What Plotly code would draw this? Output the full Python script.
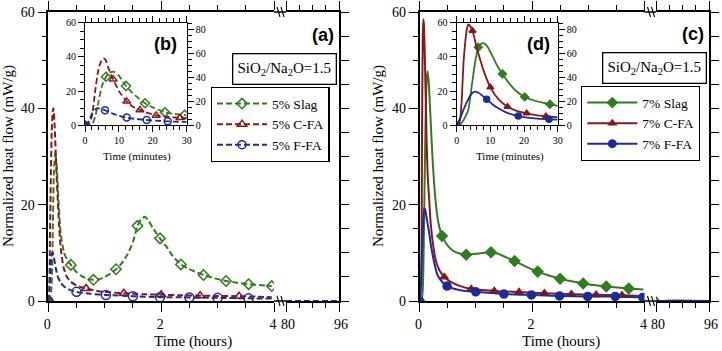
import plotly.graph_objects as go

W, H = 722, 351

GREEN = "#2f7d1c"
RED = "#8c1616"
BLUE = "#1d2b98"
SERIF = "Liberation Serif, Times New Roman, serif"
SANS = "Liberation Sans, Arial, sans-serif"

# ---------------- (a) 5 % additions, hours ----------------
slag5_h = [0, 0.05, 0.08, 0.1, 0.125, 0.15, 0.18, 0.22, 0.28, 0.34, 0.4, 0.5, 0.6, 0.7, 0.8,
           0.9, 1.0, 1.1, 1.2, 1.3, 1.4, 1.5, 1.58, 1.65, 1.71, 1.78, 1.85, 1.92, 1.98, 2.1,
           2.2, 2.35, 2.5, 2.75, 2.95, 3.15, 3.35, 3.55, 3.75, 3.96]
slag5_v = [0, 2, 15, 27, 31, 28, 21, 14, 10, 8.4, 7.5, 6.0, 5.1, 4.6, 4.4,
           4.5, 5.0, 5.7, 6.6, 7.8, 9.6, 12.2, 15.6, 17.0, 17.5, 16.6, 15.2, 14.0, 13.0, 11.2,
           9.4, 7.6, 6.6, 5.4, 4.7, 4.15, 3.8, 3.5, 3.3, 3.1]
slag5_mark_h = [0, 0.4, 0.8, 1.2, 1.58, 1.98, 2.35, 2.75, 3.15, 3.55, 3.96]
slag5_mark_v = [0, 7.5, 4.4, 6.6, 15.6, 13.0, 7.6, 5.4, 4.15, 3.5, 3.1]

cfa5_h = [0, 0.02, 0.04, 0.06, 0.08, 0.09, 0.11, 0.14, 0.18, 0.22, 0.27, 0.33, 0.4, 0.5,
          0.67, 0.85, 1.0, 1.34, 1.7, 2.0, 2.35, 2.69, 3.0, 3.38, 3.7, 3.96]
cfa5_v = [0, 6, 22, 35, 39.5, 40, 37, 28, 18, 11, 7, 5, 4.0, 3.2,
          2.6, 2.1, 1.9, 1.6, 1.4, 1.3, 1.2, 1.1, 1.05, 1.0, 0.9, 0.8]
cfa5_mark_h = [0, 0.67, 1.34, 2.0, 2.69, 3.38]
cfa5_mark_v = [0, 2.6, 1.6, 1.3, 1.1, 1.0]

ffa5_h = [0, 0.02, 0.04, 0.06, 0.08, 0.1, 0.13, 0.17, 0.22, 0.28, 0.35, 0.5, 0.75, 1.02,
          1.5, 1.98, 2.5, 3.0, 3.55, 3.96]
ffa5_v = [0, 2, 7, 9.8, 10, 9, 7, 5, 3.8, 3.0, 2.5, 1.9, 1.5, 1.25,
          1.0, 0.8, 0.75, 0.65, 0.55, 0.5]
ffa5_mark_h = [0, 0.5, 1.02, 1.5, 1.98, 2.5, 3.0, 3.55]
ffa5_mark_v = [0, 1.9, 1.25, 1.0, 0.8, 0.75, 0.65, 0.55]

late_h = [80, 96]
late_v = [0, 0]

# ---------------- (b) 5 % additions, minutes ----------------
slag5_min = [0, 2, 3, 4, 5, 6.2, 7, 8.4, 10, 12.1, 14, 16, 17.7, 20, 23.6, 26, 28, 30]
slag5_min_v = [0, 0.3, 5, 14, 23, 28.4, 30.5, 31.4, 29, 23, 19, 15.5, 12.9, 10.5, 7.6, 6.8, 6.3, 6.0]
slag5_min_mark = [0, 6.2, 12.1, 17.7, 23.6, 29.4]
slag5_min_mark_v = [0, 28.4, 23, 12.9, 7.6, 6.1]

cfa5_min = [0, 1, 2, 3, 4, 5, 5.5, 6, 7, 8.3, 10, 12.3, 14, 16.2, 18, 21, 24, 28, 30]
cfa5_min_v = [0, 0.5, 5, 20, 33, 38.5, 39, 38.5, 33, 27, 20, 14, 11, 9, 7.5, 5.8, 5.0, 4.4, 4.2]
cfa5_min_mark = [0, 8.3, 12.3, 16.2, 21, 28]
cfa5_min_mark_v = [0, 27, 14, 9, 5.8, 4.4]

ffa5_min = [0, 1, 2, 3, 3.7, 4.5, 5.9, 8, 10, 12.3, 15, 18.2, 21, 24.4, 27, 30]
ffa5_min_v = [0, 2, 6.5, 9.3, 10, 9.7, 8.8, 7.0, 5.6, 4.5, 3.7, 3.1, 2.7, 2.3, 2.1, 2.0]
ffa5_min_mark = [0, 5.9, 12.3, 18.2, 24.4]
ffa5_min_mark_v = [0, 8.8, 4.5, 3.1, 2.3]

# ---------------- (c) 7 % additions, hours ----------------
slag7_h = [0, 0.04, 0.06, 0.08, 0.1, 0.12, 0.14, 0.16, 0.18, 0.2, 0.235, 0.28, 0.33, 0.4,
           0.5, 0.6, 0.7, 0.83, 1.0, 1.15, 1.27, 1.4, 1.55, 1.69, 1.9, 2.1, 2.3, 2.5, 2.7,
           2.91, 3.1, 3.32, 3.52, 3.72, 3.98]
slag7_v = [0, 0.5, 3, 15, 32, 44, 47.7, 46, 42, 37, 29, 21.5, 16.6, 13.5,
           11.5, 10.4, 9.9, 9.6, 9.8, 10.0, 10.1, 9.8, 9.0, 8.3, 7.1, 6.1, 5.3, 4.6, 4.1,
           3.65, 3.3, 3.0, 2.8, 2.6, 2.4]
slag7_mark_h = [0, 0.4, 0.83, 1.27, 1.69, 2.1, 2.5, 2.91, 3.32, 3.72]
slag7_mark_v = [0, 13.5, 9.6, 10.1, 8.3, 6.1, 4.6, 3.65, 3.0, 2.6]

cfa7_h = [0, 0.03, 0.045, 0.058, 0.07, 0.08, 0.1, 0.125, 0.146, 0.167, 0.2, 0.25, 0.3, 0.35,
          0.44, 0.55, 0.7, 0.92, 1.33, 1.77, 2.22, 2.7, 3.14, 3.6, 3.98]
cfa7_v = [0, 5, 35, 55, 58.5, 57, 48, 34, 26, 22, 16, 11, 8, 6.5,
          5.0, 4.0, 3.2, 2.5, 2.1, 1.85, 1.6, 1.4, 1.3, 1.2, 1.0]
cfa7_mark_h = [0, 0.44, 0.92, 1.33, 1.77, 2.22, 2.7, 3.14, 3.6]
cfa7_mark_v = [0, 5.0, 2.5, 2.1, 1.85, 1.6, 1.4, 1.3, 1.2]

ffa7_h = [0, 0.02, 0.04, 0.06, 0.085, 0.1, 0.13, 0.17, 0.2, 0.235, 0.28, 0.32, 0.4, 0.49,
          0.6, 0.75, 1.0, 1.5, 1.99, 2.49, 2.99, 3.48, 3.97]
ffa7_v = [0, 2, 8, 15, 19.2, 19, 17, 14.3, 11.8, 9.5, 7, 5.4, 4, 3.1,
          2.6, 2.2, 1.9, 1.45, 1.25, 1.05, 0.95, 0.95, 0.75]
ffa7_mark_h = [0, 0.49, 1.0, 1.5, 1.99, 2.49, 2.99, 3.48, 3.97]
ffa7_mark_v = [0, 3.1, 1.9, 1.45, 1.25, 1.05, 0.95, 0.95, 0.75]

slag7_late_h = [80, 81, 96]
slag7_late_v = [0.9, 0, 0]
cfa7_late_h = [80, 80.9, 82, 96]
cfa7_late_v = [0.2, -0.5, 0, 0]

# ---------------- (d) 7 % additions, minutes ----------------
slag7_min = [0, 1, 2, 2.8, 3.45, 4.45, 5.4, 6.4, 7.2, 7.9, 9, 10.5, 12, 13.6, 16, 18, 20.2,
             23, 25.5, 27.7, 30]
slag7_min_v = [0, 0.5, 3, 6, 9, 22.6, 36, 45.6, 47.5, 48, 46.5, 41, 35, 30, 23.5, 19.5, 16.6,
               14.5, 13.2, 12.3, 11.3]
slag7_min_mark = [0, 6.4, 13.6, 20.2, 27.7]
slag7_min_mark_v = [0, 45.6, 30, 16.6, 12.3]

cfa7_min = [0, 0.5, 1, 1.5, 2, 2.5, 3, 3.45, 4, 4.7, 6, 8, 10, 12.5, 15.1, 18, 20.8, 23.5,
            26.5, 30]
cfa7_min_v = [0, 0.3, 3, 15, 36, 48, 56, 59, 58, 55.3, 45, 32, 22.2, 15, 10.9, 8.3, 7.0, 6.0,
              5.3, 4.6]
cfa7_min_mark = [0, 4.7, 10.0, 15.1, 20.8, 26.5]
cfa7_min_mark_v = [0, 55.3, 22.2, 10.9, 7.0, 5.3]

ffa7_min = [0, 1, 2, 3, 3.9, 4.7, 5.4, 6.5, 7.5, 8.9, 10.5, 12.5, 15, 18.3, 21, 24, 27.4, 30]
ffa7_min_v = [0, 4, 9, 13.5, 17, 19, 19.7, 19, 17.5, 15.3, 12.5, 9.8, 7.3, 5.4, 4.5, 3.9, 3.5, 3.3]
ffa7_min_mark = [0, 8.9, 18.3, 27.4]
ffa7_min_mark_v = [0, 15.3, 5.4, 3.5]


def fx(px):
    return px / W


def fy(py):
    return 1 - py / H


fig = go.Figure()


def add_series(x, y, mx, my, color, symbol, dash, xa, ya, msize, lw):
    fig.add_trace(go.Scatter(
        x=x, y=y, mode="lines", xaxis=xa, yaxis=ya,
        line=dict(color=color, width=lw, dash=dash, shape="spline", smoothing=0.6),
        showlegend=False, hoverinfo="skip"
    ))
    if mx:
        fig.add_trace(go.Scatter(
            x=mx, y=my, mode="markers", xaxis=xa, yaxis=ya,
            marker=dict(symbol=symbol, size=msize, color=color,
                        line=dict(color=color, width=1.5)),
            showlegend=False, hoverinfo="skip"
        ))


DASH = "6px,3px"

# panel (a) main
add_series(slag5_h, slag5_v, slag5_mark_h, slag5_mark_v, GREEN, "diamond-open", DASH, "x", "y", 8, 2)
add_series(cfa5_h, cfa5_v, cfa5_mark_h, cfa5_mark_v, RED, "triangle-up-open", DASH, "x", "y", 8, 2)
add_series(ffa5_h, ffa5_v, ffa5_mark_h, ffa5_mark_v, BLUE, "circle-open", DASH, "x", "y", 9, 2)
for c in (GREEN, RED, BLUE):
    add_series(late_h, late_v, None, None, c, None, DASH, "x2", "y", 0, 2)

# panel (b) inset
add_series(slag5_min, slag5_min_v, slag5_min_mark, slag5_min_mark_v, GREEN, "diamond-open", DASH, "x5", "y5", 7, 1.8)
add_series(cfa5_min, cfa5_min_v, cfa5_min_mark, cfa5_min_mark_v, RED, "triangle-up-open", DASH, "x5", "y5", 7, 1.8)
add_series(ffa5_min, ffa5_min_v, ffa5_min_mark, ffa5_min_mark_v, BLUE, "circle-open", DASH, "x5", "y5", 7, 1.8)

# panel (c) main
add_series(slag7_h, slag7_v, slag7_mark_h, slag7_mark_v, GREEN, "diamond", "solid", "x3", "y3", 8, 2)
add_series(cfa7_h, cfa7_v, cfa7_mark_h, cfa7_mark_v, RED, "triangle-up", "solid", "x3", "y3", 7, 2)
add_series(ffa7_h, ffa7_v, ffa7_mark_h, ffa7_mark_v, BLUE, "circle", "solid", "x3", "y3", 8, 2)
add_series(slag7_late_h, slag7_late_v, None, None, GREEN, None, "solid", "x4", "y3", 0, 2)
add_series(cfa7_late_h, cfa7_late_v, None, None, RED, None, "solid", "x4", "y3", 0, 2)
add_series(late_h, late_v, None, None, BLUE, None, "solid", "x4", "y3", 0, 2)

# panel (d) inset
add_series(slag7_min, slag7_min_v, slag7_min_mark, slag7_min_mark_v, GREEN, "diamond", "solid", "x6", "y7", 6, 1.8)
add_series(cfa7_min, cfa7_min_v, cfa7_min_mark, cfa7_min_mark_v, RED, "triangle-up", "solid", "x6", "y7", 6, 1.8)
add_series(ffa7_min, ffa7_min_v, ffa7_min_mark, ffa7_min_mark_v, BLUE, "circle", "solid", "x6", "y7", 6, 1.8)

# empty traces so the secondary (right-hand) axes get drawn
for xa, ya in [("x2", "y2"), ("x4", "y4"), ("x5", "y6"), ("x6", "y8")]:
    fig.add_trace(go.Scatter(x=[], y=[], xaxis=xa, yaxis=ya, showlegend=False, hoverinfo="skip"))

# legend entries
for name, color, sym in [("5% Slag", GREEN, "diamond-open"), ("5% C-FA", RED, "triangle-up-open"),
                         ("5% F-FA", BLUE, "circle-open")]:
    fig.add_trace(go.Scatter(x=[None], y=[None], mode="lines+markers", name=name, legend="legend",
                             line=dict(color=color, width=2, dash=DASH),
                             marker=dict(symbol=sym, size=8, color=color, line=dict(color=color, width=1.5)),
                             xaxis="x", yaxis="y"))
for name, color, sym in [("7% Slag", GREEN, "diamond"), ("7% C-FA", RED, "triangle-up"),
                         ("7% F-FA", BLUE, "circle")]:
    fig.add_trace(go.Scatter(x=[None], y=[None], mode="lines+markers", name=name, legend="legend2",
                             line=dict(color=color, width=2),
                             marker=dict(symbol=sym, size=9, color=color),
                             xaxis="x3", yaxis="y3"))

tick_main = dict(family=SERIF, size=14, color="black")
tick_inset = dict(family=SERIF, size=10, color="black")


def ax(**kw):
    base = dict(showgrid=False, zeroline=False, showline=True, linecolor="black", linewidth=1.5,
                ticks="outside", ticklen=9, tickwidth=1.3, tickcolor="black", tickfont=tick_main,
                fixedrange=True, automargin=False)
    base.update(kw)
    return base


def minor(d, ln=5):
    return dict(dtick=d, ticks="outside", ticklen=ln, tickwidth=1.2, tickcolor="black", showgrid=False)


Y_MAIN = [fy(301), fy(12)]
Y_INSET = [fy(125.3), fy(22.7)]

legend_style = dict(xanchor="left", yanchor="top", bgcolor="white", bordercolor="black",
                    borderwidth=1.3, font=dict(family=SERIF, size=13.5, color="black"),
                    itemwidth=50, tracegroupgap=0)

fig.update_layout(
    width=W, height=H,
    margin=dict(l=0, r=0, t=0, b=0, pad=0, autoexpand=False),
    paper_bgcolor="white", plot_bgcolor="white",
    # panel (a)
    xaxis=ax(domain=[fx(48.3), fx(274)], range=[0, 4], tickvals=[0, 2, 4], minor=minor(0.5),
             anchor="y", mirror="ticks", ticklabelshift=-1),
    xaxis2=ax(domain=[fx(286), fx(339)], range=[80, 96], tickvals=[80, 96], minor=minor(4),
              anchor="y", mirror="ticks", ticklabelshift=2),
    yaxis=ax(domain=Y_MAIN, range=[0, 60], dtick=20, minor=minor(5), anchor="x"),
    yaxis2=ax(domain=Y_MAIN, range=[0, 60], dtick=5, ticklen=8, showticklabels=False,
              overlaying="y", side="right", anchor="x2"),
    # panel (c)
    xaxis3=ax(domain=[fx(419.5), fx(644.5)], range=[0, 4], tickvals=[0, 2, 4], minor=minor(0.5),
              anchor="y3", mirror="ticks", ticklabelshift=-1),
    xaxis4=ax(domain=[fx(656), fx(709)], range=[80, 96], tickvals=[80, 96], minor=minor(4),
              anchor="y3", mirror="ticks", ticklabelshift=2),
    yaxis3=ax(domain=Y_MAIN, range=[0, 60], dtick=20, minor=minor(5), anchor="x3"),
    yaxis4=ax(domain=Y_MAIN, range=[0, 60], dtick=5, ticklen=8, showticklabels=False,
              overlaying="y3", side="right", anchor="x4"),
    # inset (b)
    xaxis5=ax(domain=[fx(85), fx(186.7)], range=[0, 30], dtick=10, minor=minor(2, 4),
              ticklen=6, tickfont=tick_inset, anchor="y5", mirror="ticks", linewidth=1.2),
    yaxis5=ax(domain=Y_INSET, range=[0, 60], dtick=20, minor=minor(5, 4), ticklen=6,
              tickfont=tick_inset, anchor="x5", linewidth=1.2),
    yaxis6=ax(domain=Y_INSET, range=[0, 85.5], dtick=20, minor=minor(5, 4), ticklen=6,
              tickfont=tick_inset, overlaying="y5", side="right", anchor="x5", linewidth=1.2),
    # inset (d)
    xaxis6=ax(domain=[fx(456.7), fx(557.7)], range=[0, 30], dtick=10, minor=minor(2, 4),
              ticklen=6, tickfont=tick_inset, anchor="y7", mirror="ticks", linewidth=1.2),
    yaxis7=ax(domain=Y_INSET, range=[0, 60], dtick=20, minor=minor(5, 4), ticklen=6,
              tickfont=tick_inset, anchor="x6", linewidth=1.2),
    yaxis8=ax(domain=Y_INSET, range=[0, 85.5], dtick=20, minor=minor(5, 4), ticklen=6,
              tickfont=tick_inset, overlaying="y7", side="right", anchor="x6", linewidth=1.2),
    legend=dict(x=fx(210.7), y=fy(87), **legend_style),
    legend2=dict(x=fx(581), y=fy(86), **legend_style),
)

# continuous frame across the axis breaks, plus break marks
shapes = []
for x0, x1 in [(274, 286), (644.5, 656)]:
    for yy in (12, 301):
        shapes.append(dict(type="line", xref="paper", yref="paper", x0=fx(x0), x1=fx(x1),
                           y0=fy(yy), y1=fy(yy), line=dict(color="black", width=1.5)))
        for off in (3, 7):
            shapes.append(dict(type="line", xref="paper", yref="paper",
                               x0=fx(x0 + off), x1=fx(x0 + off + 3), y0=fy(yy - 5), y1=fy(yy + 5),
                               line=dict(color="black", width=1.1)))
fig.update_layout(shapes=shapes)

ann = []


def text(x, y, s, size, family=SERIF, bold=False, angle=0, **kw):
    a = dict(x=fx(x), y=fy(y), xref="paper", yref="paper", text=f"<b>{s}</b>" if bold else s,
             showarrow=False, xanchor="center", yanchor="middle", textangle=angle,
             font=dict(family=family, size=size, color="black"))
    a.update(kw)
    ann.append(a)


YT = "Normalized heat flow (mW/g)"
text(8, 156, YT, 15, angle=-90)
text(378, 156, YT, 15, angle=-90)
text(193, 341, "Time (hours)", 15)
text(561, 341, "Time (hours)", 15)
text(136.7, 156, "Time (minutes)", 11)
text(510, 156, "Time (minutes)", 11)
text(322.5, 35, "(a)", 18, family=SANS, bold=True)
text(692.7, 34, "(c)", 18, family=SANS, bold=True)
text(165.5, 44, "(b)", 18, family=SANS, bold=True)
text(538, 44, "(d)", 18, family=SANS, bold=True)
SIO = "SiO<sub>2</sub>/Na<sub>2</sub>O=1.5"
box = dict(bordercolor="black", borderwidth=1.3, bgcolor="white", width=98, height=25, borderpad=2)
text(284.2, 68.8, SIO, 15, **box)
text(654.9, 68.3, SIO, 15, **box)
fig.update_layout(annotations=ann)

# the page body has a default 8px margin; drop it so the figure sits at the window corner
fig.write_html("out.html", config={"displayModeBar": False},
               post_script="document.body.style.margin='0px';")
